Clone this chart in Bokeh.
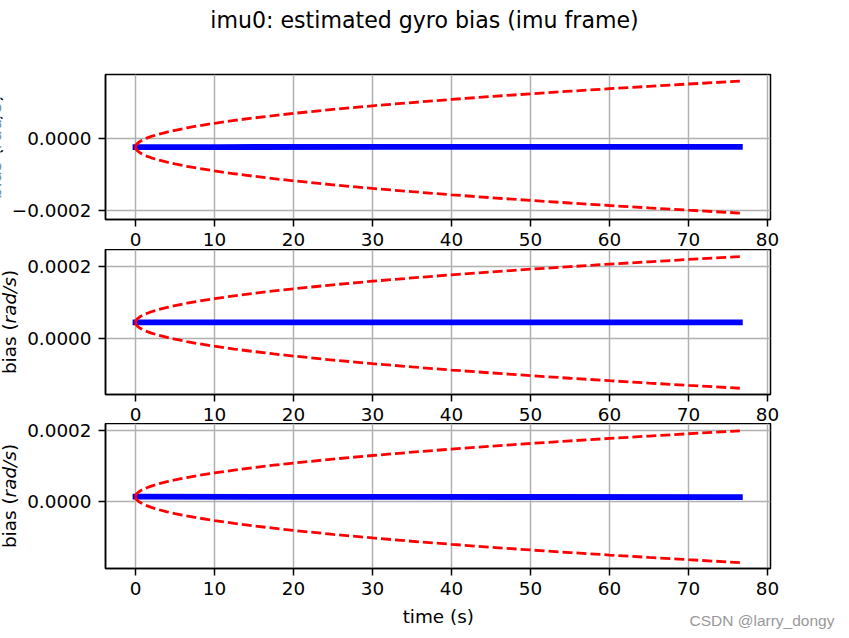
import math
from bokeh.plotting import figure
from bokeh.layouts import column, row
from bokeh.models import Range1d, FixedTicker, CustomJSTickFormatter, Label
from bokeh.embed import file_html
from bokeh.resources import INLINE

# ---------------- data ----------------
TITLE = "imu0: estimated gyro bias (imu frame)"
X_LABEL = "time (s)"
Y_LABEL_PARTS = ["bias (", "rad/s", ")"]
WATERMARK = "CSDN @larry_dongy"

x_ticks = [0, 10, 20, 30, 40, 50, 60, 70, 80]
y_ticks = [-0.0002, 0.0, 0.0002]

# estimated bias (blue), rad/s
bias_time_x = [0.0, 10.5, 31.0, 62.0, 76.5]
bias_x = [-2.35e-5, -2.33e-5, -2.31e-5, -2.28e-5, -2.27e-5]
bias_time_y = [0.0, 36.0, 61.0, 76.5]
bias_y = [4.60e-5, 4.60e-5, 4.62e-5, 4.62e-5]
bias_time_z = [0.0, 20.0, 36.0, 52.0, 76.5]
bias_z = [1.30e-5, 1.27e-5, 1.24e-5, 1.22e-5, 1.20e-5]

# 3-sigma bound offsets (red dashed), in 1e-5 rad/s
bound_time = [0, 0.05, 0.15, 0.3, 0.6, 1, 1.5, 2, 3, 4, 5, 6.5, 8, 10, 12.5, 15,
              17.5, 20, 25, 30, 35, 40, 45, 50, 55, 60, 65, 70, 76.5]
sigma3_x = [0, 0.47, 0.81, 1.14, 1.62, 2.09, 2.56, 2.96, 3.62, 4.18, 4.67, 5.33, 5.91,
            6.61, 7.39, 8.09, 8.74, 9.35, 10.45, 11.45, 12.36, 13.22, 14.02, 14.78,
            15.50, 16.19, 16.85, 17.49, 18.28]
sigma3_y = [0, 0.47, 0.81, 1.14, 1.62, 2.09, 2.56, 2.96, 3.62, 4.18, 4.67, 5.33, 5.91,
            6.61, 7.39, 8.09, 8.74, 9.35, 10.45, 11.45, 12.36, 13.22, 14.02, 14.78,
            15.50, 16.19, 16.85, 17.49, 18.28]
sigma3_z = [0, 0.48, 0.82, 1.16, 1.65, 2.13, 2.60, 3.01, 3.68, 4.25, 4.75, 5.42, 6.01,
            6.72, 7.51, 8.23, 8.89, 9.50, 10.63, 11.64, 12.57, 13.44, 14.25, 15.03,
            15.76, 16.46, 17.13, 17.78, 18.59]

x_limits = (-3.80, 80.38)
y_limits = [(-0.0002242, 0.0001778), (-0.0001542, 0.0002486), (-0.0001896, 0.0002197)]

series = [
    (bias_time_x, bias_x, sigma3_x),
    (bias_time_y, bias_y, sigma3_y),
    (bias_time_z, bias_z, sigma3_z),
]

# ---------------- styling / layout ----------------
FONT = "DejaVu Sans"
FS = 18.4
TICK_FS = "18.4px"
W = 849
HEADER_H = 60
FOOTER_H = 38
FRAME_LEFT = 105
FRAME_RIGHT_BORDER = 79
strip_w = [6, 22, 22]
row_h = [189, 174, 177]
border_top = [14, 0, 0]
border_bottom = [30, 29, 32]
ylabel_anchor_x = [-6.5, 8.5, 8.5]

fmt = CustomJSTickFormatter(code="""
const s = Math.abs(tick).toFixed(4);
if (tick < -1e-12) { return "\\u2212" + s; }
return s;
""")

part_len = [2.755 * FS, 2.517 * FS, 0.39 * FS]
total_len = sum(part_len)


def blank(width, height):
    f = figure(width=width, height=height, output_backend="svg", toolbar_location=None,
               x_axis_type=None, y_axis_type=None, x_range=Range1d(0, 1),
               y_range=Range1d(0, 1), min_border=0, title=None)
    f.outline_line_color = None
    f.grid.visible = False
    f.background_fill_color = "white"
    f.border_fill_color = "white"
    return f


# header with the figure title
header = blank(W, HEADER_H)
header.add_layout(Label(x=424, y=19, x_units="canvas", y_units="canvas", text=TITLE,
                        text_align="center", text_baseline="alphabetic", text_font=FONT,
                        text_font_size="22.1px", text_color="black"))

rows = []
for i, (bt, bv, s3) in enumerate(series):
    # strip holding the rotated y label
    strip = blank(strip_w[i], row_h[i])
    cy = border_top[i] + 72.5
    pos = cy + total_len / 2
    for j, txt in enumerate(Y_LABEL_PARTS):
        strip.add_layout(Label(x=ylabel_anchor_x[i], y=pos, x_units="canvas", y_units="canvas",
                               text=txt, angle=math.pi / 2, text_align="left",
                               text_baseline="alphabetic", text_font=FONT,
                               text_font_size=TICK_FS, text_color="black",
                               text_font_style="italic" if j == 1 else "normal"))
        pos -= part_len[j]

    p = figure(width=W - strip_w[i], height=row_h[i], output_backend="svg",
               toolbar_location=None,
               x_range=Range1d(*x_limits), y_range=Range1d(*y_limits[i]),
               min_border_left=FRAME_LEFT - strip_w[i], min_border_right=FRAME_RIGHT_BORDER,
               min_border_top=border_top[i], min_border_bottom=border_bottom[i],
               title=None)
    p.background_fill_color = "white"
    p.border_fill_color = "white"
    p.outline_line_color = "black"
    p.outline_line_width = 1.5
    p.outline_line_alpha = 1.0

    for ax in (p.xaxis[0], p.yaxis[0]):
        ax.axis_line_color = "black"
        ax.axis_line_width = 1.5
        ax.major_tick_line_color = "black"
        ax.major_tick_line_width = 1.5
        ax.major_tick_out = 7
        ax.major_tick_in = 0
        ax.minor_tick_line_color = None
        ax.major_label_text_font = FONT
        ax.major_label_text_font_size = TICK_FS
        ax.major_label_text_color = "black"
        ax.major_label_text_line_height = 0.9
    p.xaxis[0].ticker = FixedTicker(ticks=x_ticks)
    p.xaxis[0].major_label_standoff = 6
    p.yaxis[0].ticker = FixedTicker(ticks=y_ticks)
    p.yaxis[0].formatter = fmt
    p.yaxis[0].major_label_standoff = 7

    p.xgrid.grid_line_color = "#b0b0b0"
    p.ygrid.grid_line_color = "#b0b0b0"
    p.xgrid.grid_line_width = 1.5
    p.ygrid.grid_line_width = 1.5

    # blue estimated bias
    p.line(bt, bv, line_color="blue", line_width=5.8, line_cap="square")
    b0 = bv[0]
    upper = [b0 + v * 1e-5 for v in s3]
    lower = [b0 - v * 1e-5 for v in s3]
    p.line(bound_time, upper, line_color="red", line_width=2.8, line_dash="10 4")
    p.line(bound_time, lower, line_color="red", line_width=2.8, line_dash="10 4")

    rows.append(row(strip, p, spacing=0))

# footer with x label and watermark
footer = blank(W, FOOTER_H)
footer.add_layout(Label(x=437.8, y=15.8, x_units="canvas", y_units="canvas", text=X_LABEL,
                        text_align="center", text_baseline="alphabetic", text_font=FONT,
                        text_font_size=TICK_FS, text_color="black"))
footer.add_layout(Label(x=689, y=19.5, x_units="canvas", y_units="canvas", text=WATERMARK,
                        text_align="left", text_baseline="alphabetic",
                        text_font="Liberation Sans", text_font_size="15.5px",
                        text_color="#999999"))

layout = column(header, *rows, footer, spacing=0)
open("out.html", "w", encoding="utf-8").write(file_html(layout, INLINE))
